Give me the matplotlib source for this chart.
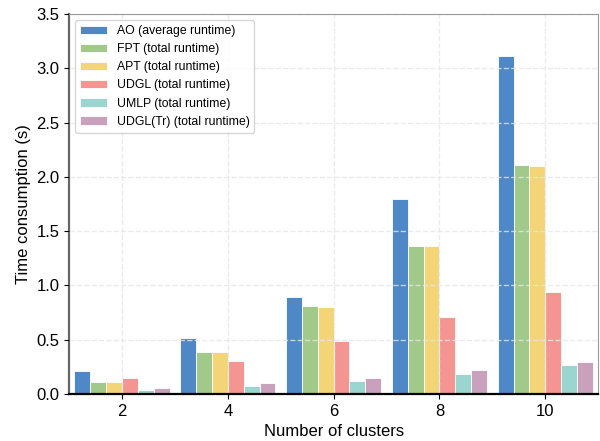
import numpy as np
import matplotlib
matplotlib.use('Agg')
import matplotlib.pyplot as plt

plt.rcParams['font.family'] = ['Liberation Sans', 'DejaVu Sans']

clusters = [2, 4, 6, 8, 10]
labels = ['AO (average runtime)', 'FPT (total runtime)', 'APT (total runtime)',
          'UDGL (total runtime)', 'UMLP (total runtime)', 'UDGL(Tr) (total runtime)']
ao = [0.21, 0.51, 0.89, 1.80, 3.11]
fpt = [0.11, 0.39, 0.805, 1.365, 2.11]
apt = [0.105, 0.385, 0.80, 1.365, 2.10]
udgl = [0.145, 0.305, 0.49, 0.71, 0.94]
umlp = [0.035, 0.07, 0.115, 0.18, 0.265]
udgl_tr = [0.055, 0.10, 0.15, 0.22, 0.29]
colors = ['#4e88c6', '#a1c98a', '#f3d577', '#f59591', '#9bd5cf', '#c9a1bd']

series = [ao, fpt, apt, udgl, umlp, udgl_tr]
width = 0.3
x = np.array(clusters, dtype=float)

fig, ax = plt.subplots(figsize=(6, 4.41), dpi=100)
for i, (vals, lab, c) in enumerate(zip(series, labels, colors)):
    off = (i - 2.5) * width
    ax.bar(x + off, vals, width, label=lab, color=c, edgecolor='white', linewidth=0.6, zorder=2)

ax.set_xlim(1, 11)
ax.set_ylim(0, 3.5)
ax.set_xticks(clusters)
ax.set_yticks(np.arange(0, 3.51, 0.5))
ax.grid(True, linestyle='--', color='#e6e6e6', linewidth=1.0, alpha=0.8, zorder=3)
ax.set_axisbelow(False)
for s in ['top', 'right']:
    ax.spines[s].set_color('#999999')
    ax.spines[s].set_zorder(5)
ax.spines['left'].set_color('#666666')
ax.spines['left'].set_linewidth(1.6)
ax.spines['bottom'].set_linewidth(1.6)
ax.spines['bottom'].set_zorder(5)
ax.tick_params(labelsize=12)
ax.set_xlabel('Number of clusters', fontsize=12)
ax.set_ylabel('Time consumption (s)', fontsize=12)
ax.legend(loc='upper left', fontsize=8.8, framealpha=0.8, handlelength=2.2)

plt.subplots_adjust(left=0.115, right=0.997, top=0.968, bottom=0.107)
plt.savefig('out.png', dpi=100)
